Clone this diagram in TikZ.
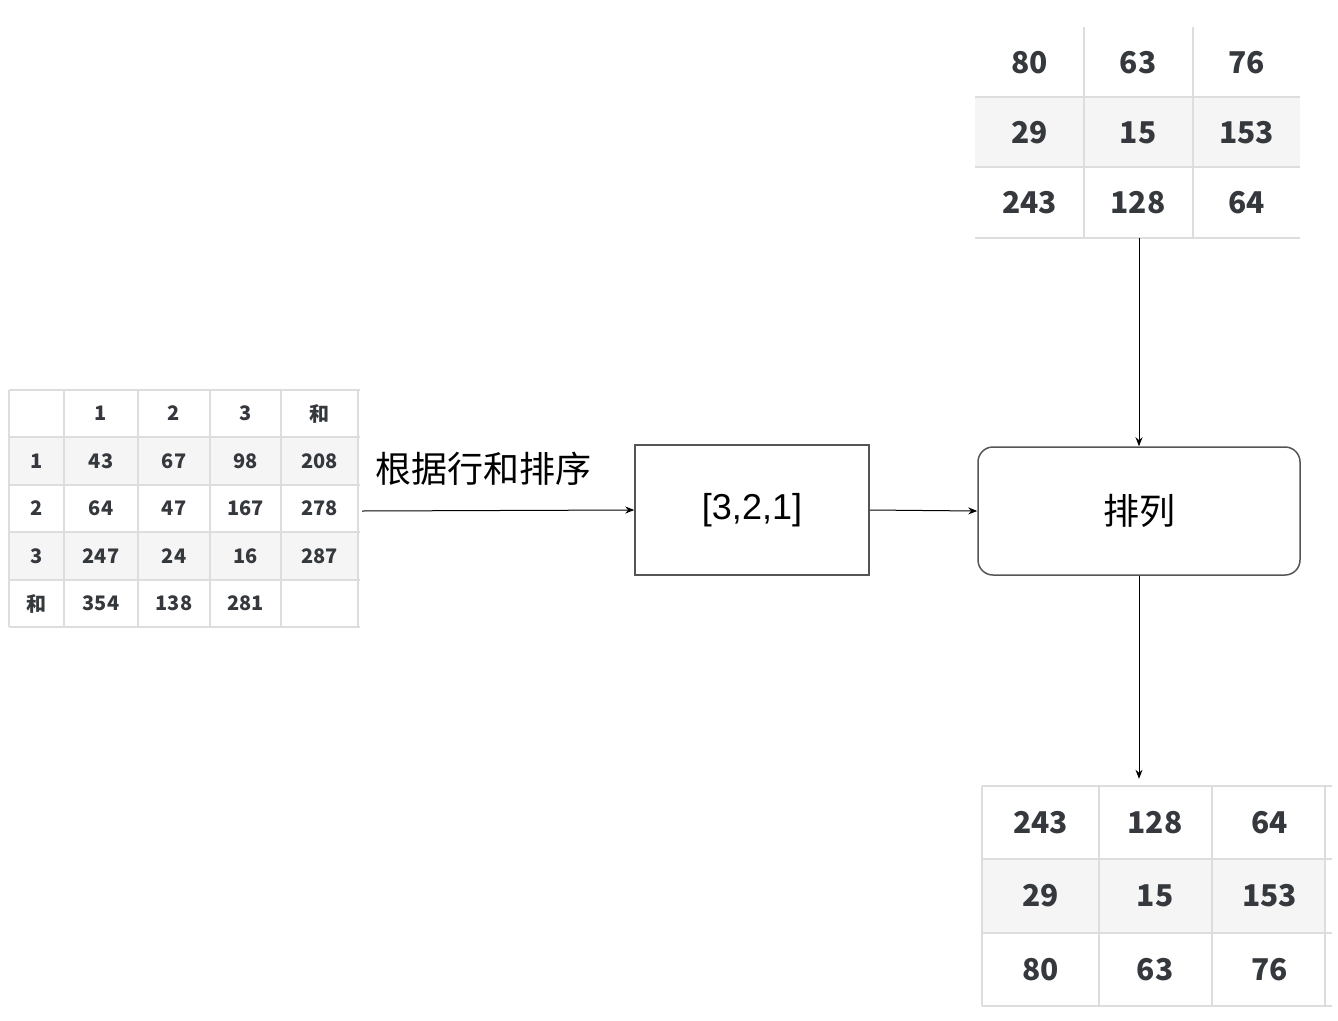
\documentclass[tikz,border=0pt]{standalone}
\usepackage{fontspec}
\setmainfont{Noto Sans CJK SC}
\newfontfamily\helvfont{Liberation Sans}
\usetikzlibrary{arrows.meta,positioning}
\definecolor{gridgray}{HTML}{DDDDDD}
\definecolor{rowshade}{HTML}{F5F5F5}
\definecolor{numtext}{HTML}{35383C}
\definecolor{boxgray}{HTML}{555555}

\begin{document}
\begin{tikzpicture}[x=1pt, y=-1pt,
    gridline/.style={draw=gridgray, line width=1.5pt},
    smallnum/.style={font=\bfseries\fontsize{20}{20}\selectfont, text=numtext, inner sep=0pt},
    bignum/.style={font=\bfseries\fontsize{30}{30}\selectfont, text=numtext, inner sep=0pt},
    procbox/.style={draw=boxgray, line width=1.5pt, minimum width=234pt, minimum height=130pt,
        font=\helvfont\fontsize{36}{36}\selectfont},
    flowarrow/.style={-{Stealth[length=9pt,width=7pt]}, line width=1pt}]

\useasboundingbox (0,0) rectangle (1338,1020);

% left table: values with row and column sums
\fill[rowshade] (9,437) rectangle (358,485);
\fill[rowshade] (9,532) rectangle (358,580);
\foreach \y in {390,437,485,532,580,627}
    \draw[gridline] (9,\y) -- (360,\y);
\foreach \x in {9,64,138,210,281,358}
    \draw[gridline] (\x,390) -- (\x,627);
\foreach \row [count=\r] in {{,1,2,3,和},{1,43,67,98,208},{2,64,47,167,278},{3,247,24,16,287},{和,354,138,281,}}{
    \foreach \val [count=\c] in \row {
        \pgfmathsetmacro\cx{{36.5,101,174,245.5,319.5}[\c-1]}
        \node[smallnum] (L-\r-\c) at (\cx, {413.5+47.5*(\r-1)}) {\val};
    }
}

% top table: input matrix
\fill[rowshade] (975,97) rectangle (1300,167);
\foreach \y in {97,167,238}
    \draw[gridline] (975,\y) -- (1300,\y);
\foreach \x in {1084,1193}
    \draw[gridline] (\x,27) -- (\x,238);
\foreach \row [count=\r] in {{80,63,76},{29,15,153},{243,128,64}}{
    \foreach \val [count=\c] in \row {
        \node[bignum, minimum width=108pt, minimum height=70pt] (T-\r-\c)
            at ({1029.5+108.5*(\c-1)}, {62.5+70.3*(\r-1)}) {\val};
    }
}

% bottom table: rows permuted
\fill[rowshade] (982,859) rectangle (1325,933);
\foreach \y in {786,859,933,1006}
    \draw[gridline] (982,\y) -- (1332,\y);
\foreach \x in {982,1099,1212,1325}
    \draw[gridline] (\x,786) -- (\x,1006);
\foreach \row [count=\r] in {{243,128,64},{29,15,153},{80,63,76}}{
    \foreach \val [count=\c] in \row {
        \node[bignum, minimum width=114pt, minimum height=73pt] (B-\r-\c)
            at ({1040.5+114.5*(\c-1)}, {822.5+73.5*(\r-1)}) {\val};
    }
}

% process boxes
\node[procbox] (order) at (752,510) {[3,2,1]};
\node[procbox, rounded corners=15pt, minimum width=322pt, minimum height=128pt,
    font=\fontsize{36}{36}\selectfont] (permute) at (1139,511) {排列};

% connectors
\coordinate (leftout) at (362,511);
\draw[flowarrow] (leftout) -- node[pos=0.445, above=21pt, font=\fontsize{36}{36}\selectfont] {根据行和排序} (order.west);
\draw[flowarrow] (order.east) -- (permute.west);
\draw[flowarrow] (permute.north |- T-3-2.south) -- (permute.north);
\draw[flowarrow, shorten >=7pt] (permute.south) -- (permute.south |- B-1-2.north);

\end{tikzpicture}
\end{document}
